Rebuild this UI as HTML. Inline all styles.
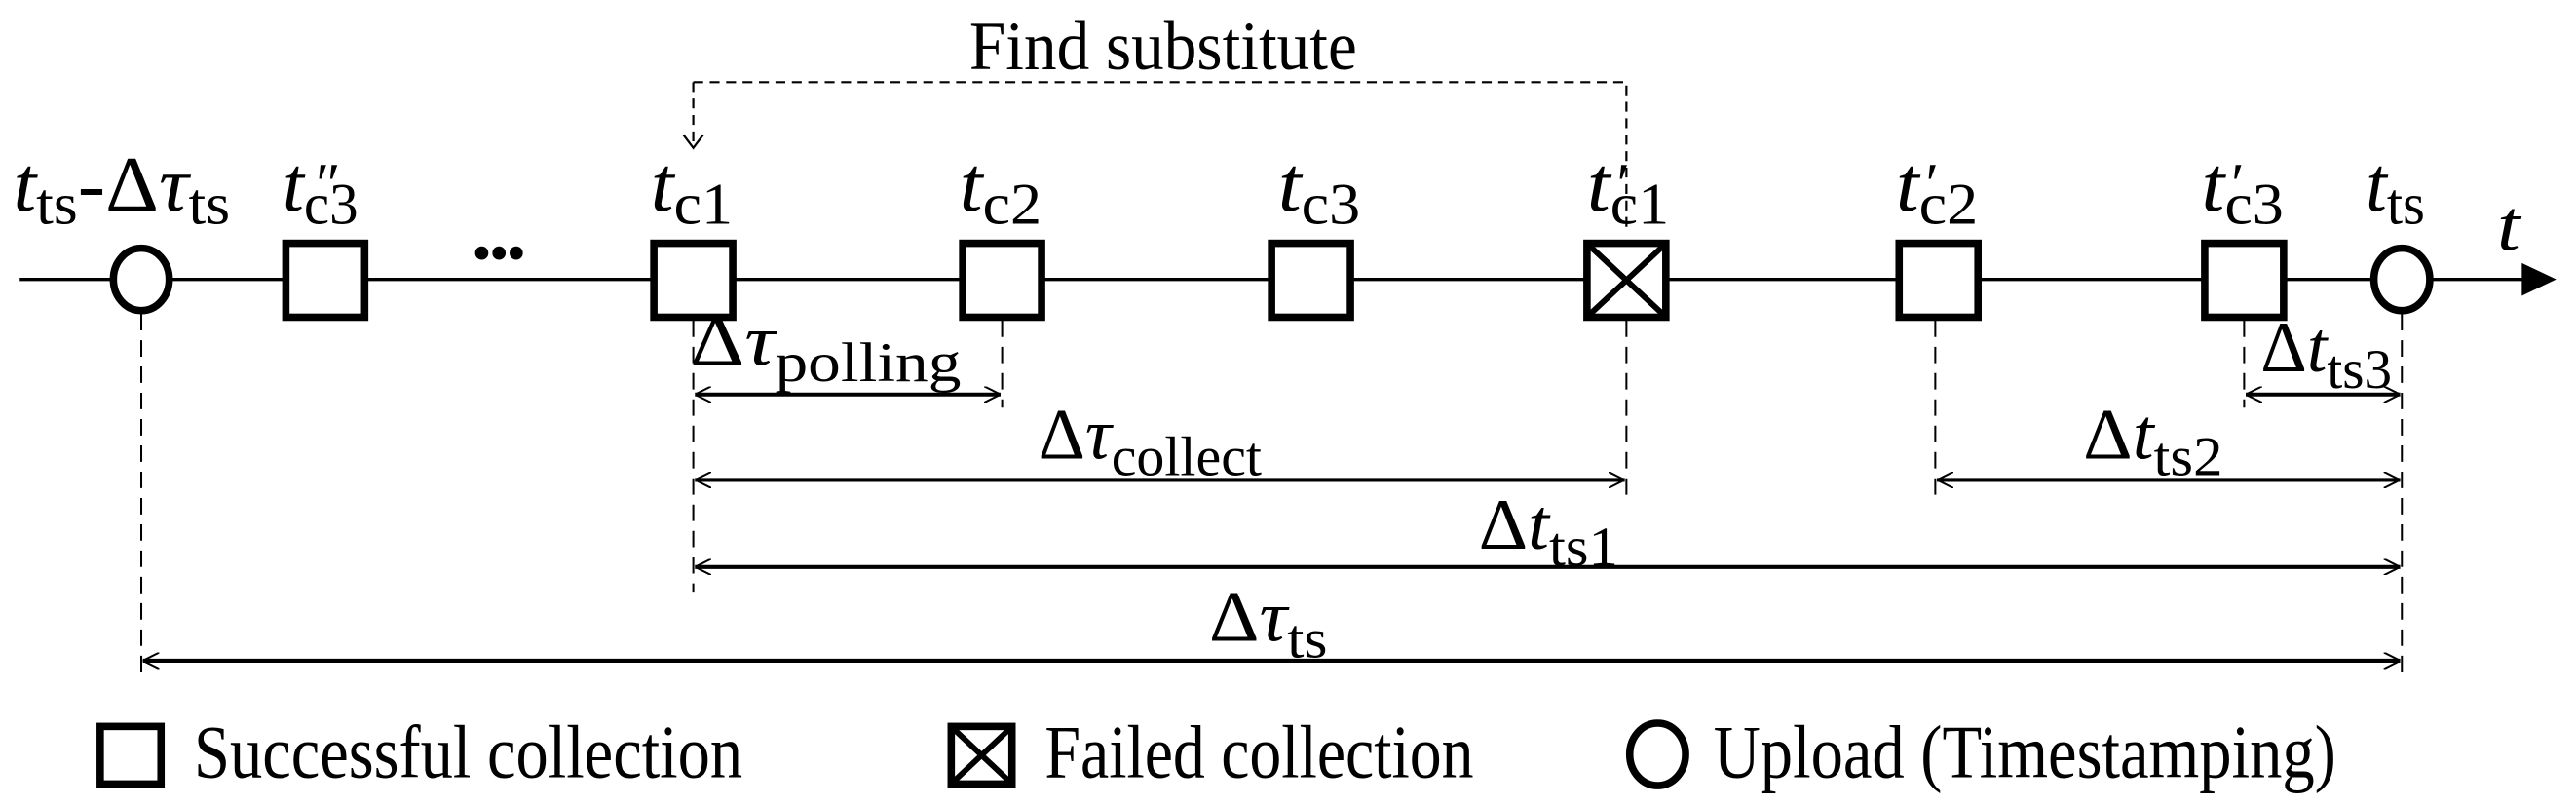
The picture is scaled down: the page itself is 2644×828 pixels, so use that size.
<!DOCTYPE html>
<html><head><style>html,body{margin:0;padding:0;background:#fff}svg{display:block}</style></head>
<body>
<svg width="2644" height="828" viewBox="0 0 1568 491" preserveAspectRatio="none" xmlns="http://www.w3.org/2000/svg" font-family="Liberation Serif, serif">
<defs>
<marker id="oa" viewBox="0 0 10 10" refX="10" refY="5" markerWidth="10" markerHeight="10" markerUnits="userSpaceOnUse" orient="auto-start-reverse"><path d="M0,0 L10,5 L0,10" fill="none" stroke="#000" stroke-width="1.2"/></marker>
</defs>
<line x1="12" y1="170" x2="1545" y2="170" stroke="#000" stroke-width="2"/>
<path d="M1535,160 L1556,170 L1535,180 Z" fill="#000"/>
<g fill="#fff" stroke="#000" stroke-width="4.5">
<ellipse cx="86" cy="170" rx="17" ry="19"/>
<ellipse cx="1462" cy="170" rx="17" ry="19"/>
<rect x="174" y="148" width="48" height="45"/>
<rect x="398" y="148" width="48" height="45"/>
<rect x="586" y="148" width="48" height="45"/>
<rect x="774" y="148" width="48" height="45"/>
<rect x="966" y="148" width="48" height="45"/>
<rect x="1156" y="148" width="48" height="45"/>
<rect x="1342" y="148" width="48" height="45"/>
</g>
<path d="M968,150 L1012,191 M1012,150 L968,191" stroke="#000" stroke-width="3.5"/>
<text x="288" y="164" font-size="30" font-weight="bold">•••</text>
<g font-size="48">
<text x="8" y="128" textLength="132" lengthAdjust="spacingAndGlyphs"><tspan font-style="italic">t</tspan><tspan font-size="36" dy="8">ts</tspan><tspan dy="-8">-Δ</tspan><tspan font-style="italic">τ</tspan><tspan font-size="36" dy="8">ts</tspan></text>
<text x="172" y="128" textLength="46" lengthAdjust="spacingAndGlyphs"><tspan font-style="italic">t</tspan><tspan font-size="36" dy="8">c3</tspan></text>
<text x="190" y="124" font-size="36" font-style="italic">″</text>
<text x="396" y="128" textLength="50" lengthAdjust="spacingAndGlyphs"><tspan font-style="italic">t</tspan><tspan font-size="36" dy="8">c1</tspan></text>
<text x="584" y="128" textLength="50" lengthAdjust="spacingAndGlyphs"><tspan font-style="italic">t</tspan><tspan font-size="36" dy="8">c2</tspan></text>
<text x="778" y="128" textLength="50" lengthAdjust="spacingAndGlyphs"><tspan font-style="italic">t</tspan><tspan font-size="36" dy="8">c3</tspan></text>
<text x="966" y="128" textLength="50" lengthAdjust="spacingAndGlyphs"><tspan font-style="italic">t</tspan><tspan font-size="36" dy="8">c1</tspan></text>
<text x="982" y="124" font-size="36" font-style="italic">′</text>
<text x="1154" y="128" textLength="50" lengthAdjust="spacingAndGlyphs"><tspan font-style="italic">t</tspan><tspan font-size="36" dy="8">c2</tspan></text>
<text x="1170" y="124" font-size="36" font-style="italic">′</text>
<text x="1340" y="128" textLength="50" lengthAdjust="spacingAndGlyphs"><tspan font-style="italic">t</tspan><tspan font-size="36" dy="8">c3</tspan></text>
<text x="1356" y="124" font-size="36" font-style="italic">′</text>
<text x="1440" y="128" textLength="36" lengthAdjust="spacingAndGlyphs"><tspan font-style="italic">t</tspan><tspan font-size="36" dy="8">ts</tspan></text>
<text x="1520" y="152" font-style="italic" font-size="44" textLength="14" lengthAdjust="spacingAndGlyphs">t</text>
</g>
<text x="590" y="42" font-size="42" textLength="236" lengthAdjust="spacingAndGlyphs">Find substitute</text>
<path d="M422,50 H990 V140 M422,50 V88" fill="none" stroke="#000" stroke-width="1.3" stroke-dasharray="6,4"/>
<path d="M416,82 L422,90 L428,82" fill="none" stroke="#000" stroke-width="1.3"/>
<g stroke="#000" stroke-width="1.2" stroke-dasharray="10,6">
<line x1="86" y1="191" x2="86" y2="412"/>
<line x1="422" y1="195" x2="422" y2="360"/>
<line x1="610" y1="195" x2="610" y2="248"/>
<line x1="990" y1="195" x2="990" y2="302"/>
<line x1="1178" y1="195" x2="1178" y2="306"/>
<line x1="1366" y1="195" x2="1366" y2="248"/>
<line x1="1462" y1="191" x2="1462" y2="412"/>
</g>
<g stroke="#000" stroke-width="2.4" marker-start="url(#oa)" marker-end="url(#oa)">
<line x1="423" y1="240" x2="609" y2="240"/>
<line x1="1367" y1="240" x2="1461" y2="240"/>
<line x1="423" y1="292" x2="989" y2="292"/>
<line x1="1179" y1="292" x2="1461" y2="292"/>
<line x1="423" y1="345" x2="1461" y2="345"/>
<line x1="87" y1="402" x2="1461" y2="402"/>
</g>
<g font-size="44">
<text x="420" y="222" textLength="165" lengthAdjust="spacingAndGlyphs">Δ<tspan font-style="italic">τ</tspan><tspan font-size="34" dy="10">polling</tspan></text>
<text x="1376" y="226" textLength="80" lengthAdjust="spacingAndGlyphs">Δ<tspan font-style="italic">t</tspan><tspan font-size="34" dy="10">ts3</tspan></text>
<text x="632" y="279" textLength="136" lengthAdjust="spacingAndGlyphs">Δ<tspan font-style="italic">τ</tspan><tspan font-size="34" dy="10">collect</tspan></text>
<text x="1268" y="279" textLength="85" lengthAdjust="spacingAndGlyphs">Δ<tspan font-style="italic">t</tspan><tspan font-size="34" dy="10">ts2</tspan></text>
<text x="900" y="334" textLength="85" lengthAdjust="spacingAndGlyphs">Δ<tspan font-style="italic">t</tspan><tspan font-size="34" dy="10">ts1</tspan></text>
<text x="736" y="390" textLength="72" lengthAdjust="spacingAndGlyphs">Δ<tspan font-style="italic">τ</tspan><tspan font-size="34" dy="10">ts</tspan></text>
</g>
<g fill="#fff" stroke="#000" stroke-width="4.5">
<rect x="61" y="442" width="37" height="35"/>
<rect x="579" y="442" width="37" height="35"/>
<ellipse cx="1009" cy="459" rx="17" ry="19"/>
</g>
<path d="M581,444 L614,475 M614,444 L581,475" stroke="#000" stroke-width="3.5"/>
<g font-size="46">
<text x="118" y="473" textLength="334" lengthAdjust="spacingAndGlyphs">Successful collection</text>
<text x="636" y="473" textLength="261" lengthAdjust="spacingAndGlyphs">Failed collection</text>
<text x="1043" y="473" textLength="379" lengthAdjust="spacingAndGlyphs">Upload (Timestamping)</text>
</g>
</svg>
</body></html>
